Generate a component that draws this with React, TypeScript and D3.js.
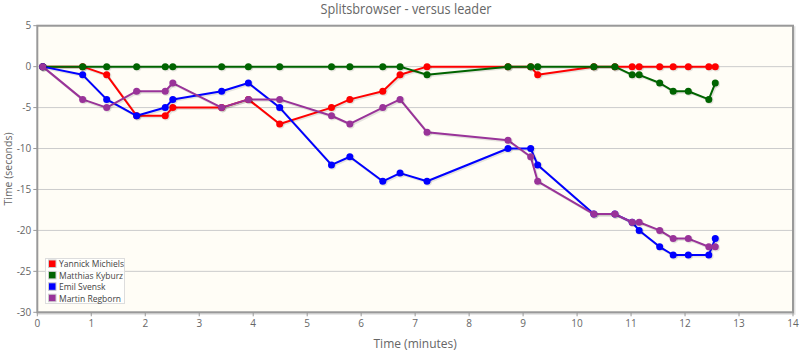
import React from "react";
import * as d3 from "d3";

const times = [0.1, 0.84, 1.285, 1.84, 2.37, 2.51, 3.415, 3.91, 4.49, 5.45, 5.79, 6.4, 6.72, 7.22, 8.72, 9.14, 9.27, 10.31, 10.7, 11.02, 11.15, 11.53, 11.78, 12.06, 12.44, 12.56];

const names = ["Yannick Michiels", "Matthias Kyburz", "Emil Svensk", "Martin Regborn"];
const colors = ["#ff0000", "#006400", "#0000ff", "#993399"];

const yannick = [0, 0, -1, -6, -6, -5, -5, -4, -7, -5, -4, -3, -1, 0, 0, 0, -1, 0, 0, 0, 0, 0, 0, 0, 0, 0];
const matthias = [0, 0, 0, 0, 0, 0, 0, 0, 0, 0, 0, 0, 0, -1, 0, 0, 0, 0, 0, -1, -1, -2, -3, -3, -4, -2];
const emil = [0, -1, -4, -6, -5, -4, -3, -2, -5, -12, -11, -14, -13, -14, -10, -10, -12, -18, -18, -19, -20, -22, -23, -23, -23, -21];
const martin = [0, -4, -5, -3, -3, -2, -5, -4, -4, -6, -7, -5, -4, -8, -9, -11, -14, -18, -18, -19, -19, -20, -21, -21, -22, -22];

const seriesValues = [yannick, matthias, emil, martin];

const xTicks = [0, 1, 2, 3, 4, 5, 6, 7, 8, 9, 10, 11, 12, 13, 14];
const yTicks = [5, 0, -5, -10, -15, -20, -25, -30];

const title = "Splitsbrowser - versus leader";
const xTitle = "Time (minutes)";
const yTitle = "Time (seconds)";

export default function App() {
  const W = 800, H = 357;
  const left = 37.3, right = 793, top = 25.7, bottom = 312.3;
  const x = d3.scaleLinear().domain([0, 14]).range([left, right]);
  const y = d3.scaleLinear().domain([-30, 5]).range([bottom, top]);
  const font = "'Open Sans', 'DejaVu Sans', sans-serif";
  const legendFont = "'Liberation Sans', Arial, sans-serif";

  const line = d3.line<[number, number]>().x(d => x(d[0])).y(d => y(d[1]));

  return (
    <svg width={W} height={H} style={{ position: "absolute", left: 0, top: 0, display: "block" }} fontFamily={font}>
      <rect x={0} y={0} width={W} height={H} fill="#ffffff" />
      <text x={406} y={14} textAnchor="middle" fontSize={14} fill="#666666" textLength={171} lengthAdjust="spacingAndGlyphs">{title}</text>
      {/* grid shadow */}
      <rect x={left + 1.5} y={top + 1.5} width={right - left} height={bottom - top} fill="none" stroke="#000" strokeOpacity={0.12} strokeWidth={2} />
      <rect x={left} y={top} width={right - left} height={bottom - top} fill="#fffdf6" />
      {yTicks.map(t => (
        <line key={"g" + t} x1={left} x2={right} y1={y(t)} y2={y(t)} stroke="#cccccc" strokeWidth={1} />
      ))}
      <rect x={left} y={top} width={right - left} height={bottom - top} fill="none" stroke="#999999" strokeWidth={2} />
      {yTicks.map(t => (
        <g key={"yt" + t}>
          <line x1={left - 4} x2={left} y1={y(t)} y2={y(t)} stroke="#999999" strokeWidth={1} />
          <text x={left - 6} y={y(t) + 3.5} textAnchor="end" fontSize={10} fill="#666666">{t}</text>
        </g>
      ))}
      {xTicks.map(t => (
        <g key={"xt" + t}>
          <line x1={x(t)} x2={x(t)} y1={bottom} y2={bottom + 4} stroke="#999999" strokeWidth={1} />
          <text x={x(t)} y={bottom + 15} textAnchor="middle" fontSize={10} fill="#666666">{t}</text>
        </g>
      ))}
      <text x={(left + right) / 2} y={348} textAnchor="middle" fontSize={12} fill="#666666">{xTitle}</text>
      <text transform={`translate(11.5,${(top + bottom) / 2}) rotate(-90)`} textAnchor="middle" fontSize={10.5} fill="#666666">{yTitle}</text>
      {seriesValues.map((vals, i) => {
        const pts: [number, number][] = times.map((t, j) => [t, vals[j]]);
        return (
          <g key={"s" + i}>
            <path d={line(pts) || ""} transform="translate(1.2,1.2)" fill="none" stroke="#000" strokeOpacity={0.1} strokeWidth={2.5} />
            <path d={line(pts) || ""} fill="none" stroke={colors[i]} strokeWidth={2} strokeLinejoin="round" />
            {pts.map((p, j) => (
              <g key={j}>
                <circle cx={x(p[0]) + 1} cy={y(p[1]) + 1} r={3.8} fill="#000" fillOpacity={0.1} />
                <circle cx={x(p[0])} cy={y(p[1])} r={3.5} fill={colors[i]} />
              </g>
            ))}
          </g>
        );
      })}
      <g>
        <rect x={45.5} y={258.5} width={79} height={45} fill="#ffffff" fillOpacity={0.8} stroke="#dddddd" />
        {names.map((n, i) => (
          <g key={"l" + i}>
            <rect x={48.5} y={260 + i * 11.4} width={7.5} height={7.5} fill={colors[i]} stroke="#cccccc" strokeWidth={1} />
            <text x={59} y={267.3 + i * 11.4} fontSize={8.5} fill="#444444">{n}</text>
          </g>
        ))}
      </g>
    </svg>
  );
}
